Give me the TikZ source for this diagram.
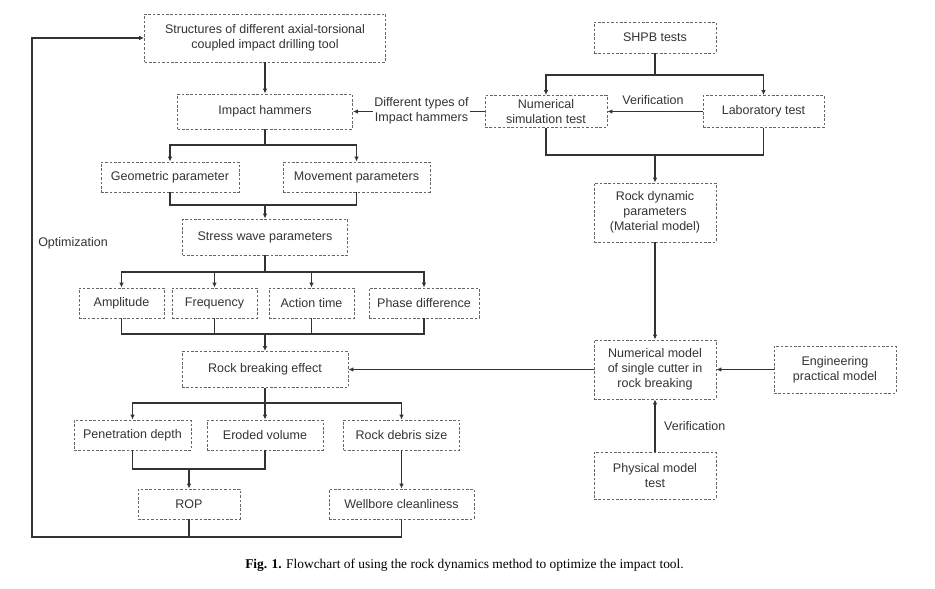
\documentclass[tikz,border=0pt]{standalone}
\usepackage{fontspec}
\setmainfont{Liberation Sans}
\newfontfamily\capfont{Liberation Serif}
\usetikzlibrary{arrows.meta}
\definecolor{ink}{HTML}{333333}
\definecolor{dash}{HTML}{666666}
\tikzset{
  bx/.style={draw=dash, dash pattern=on 2.6pt off 1.8pt, line width=0.8pt, align=center, inner sep=0pt, text=ink, font=\fontsize{12.5}{15}\selectfont},
  ln/.style={draw=ink, line width=1.1pt},
  arr/.style={ln, -{Latex[length=5pt,width=4.5pt]}},
  lbl/.style={text=ink, align=center, inner sep=1pt, font=\fontsize{12.5}{15}\selectfont},
}
\begin{document}
\begin{tikzpicture}[x=1pt,y=-1pt]
\useasboundingbox (0,0) rectangle (935,589);
% left column
\node[bx, minimum width=241pt, minimum height=48pt] (s1) at (265,38) {Structures of different axial-torsional\\coupled impact drilling tool};
\node[bx, minimum width=175pt, minimum height=35pt] (ih) at (265,111.5) {Impact hammers};
\node[bx, minimum width=138pt, minimum height=30pt] (geo) at (170,177) {Geometric parameter};
\node[bx, minimum width=147pt, minimum height=30pt] (mov) at (356.5,177) {Movement parameters};
\node[bx, minimum width=165pt, minimum height=36pt] (sw) at (265,237) {Stress wave parameters};
\node[bx, minimum width=85pt, minimum height=30pt] (amp) at (121.5,303) {Amplitude};
\node[bx, minimum width=85pt, minimum height=30pt] (freq) at (214.5,303) {Frequency};
\node[bx, minimum width=85pt, minimum height=30pt] (act) at (311.5,303) {Action time};
\node[bx, minimum width=110pt, minimum height=30pt] (pha) at (424,303) {Phase difference};
\node[bx, minimum width=166pt, minimum height=36pt] (rb) at (265,369.5) {Rock breaking effect};
\node[bx, minimum width=117pt, minimum height=30pt] (pen) at (132.5,435) {Penetration depth};
\node[bx, minimum width=116pt, minimum height=30pt] (ero) at (265,435) {Eroded volume};
\node[bx, minimum width=116pt, minimum height=30pt] (deb) at (401.5,435) {Rock debris size};
\node[bx, minimum width=102pt, minimum height=30pt] (rop) at (189,504) {ROP};
\node[bx, minimum width=145pt, minimum height=30pt] (well) at (401.5,504) {Wellbore cleanliness};
% right column
\node[bx, minimum width=122pt, minimum height=31pt] (shpb) at (655,37.5) {SHPB tests};
\node[bx, minimum width=122pt, minimum height=32pt] (num) at (546,111.5) {Numerical\\simulation test};
\node[bx, minimum width=121pt, minimum height=32pt] (lab) at (763.5,111.5) {Laboratory test};
\node[bx, minimum width=122pt, minimum height=59pt] (rdp) at (655,212.5) {Rock dynamic\\parameters\\(Material model)};
\node[bx, minimum width=122pt, minimum height=59pt] (nm) at (655,369.5) {Numerical model\\of single cutter in\\rock breaking};
\node[bx, minimum width=122pt, minimum height=47pt] (eng) at (835,369.5) {Engineering\\practical model};
\node[bx, minimum width=122pt, minimum height=47pt] (phy) at (655,475.5) {Physical model\\test};
% junctions
\coordinate (j1) at (265,145);
\coordinate (j2) at (265,205);
\coordinate (j3) at (265,272);
\coordinate (j4) at (265,334);
\coordinate (j5) at (265,403);
\coordinate (j6) at (189,469);
\coordinate (j7) at (655,75);
\coordinate (j8) at (655,155);
\coordinate (fb) at (32,537);
% connectors left
\draw[arr] (s1.south) -- (ih.north);
\draw[ln] (ih.south) -- (j1);
\draw[arr] (j1) -| (geo.north);
\draw[arr] (j1) -| (mov.north);
\draw[ln] (geo.south) |- (j2);
\draw[ln] (mov.south) |- (j2);
\draw[arr] (j2) -- (sw.north);
\draw[ln] (sw.south) -- (j3);
\draw[arr] (j3) -| (amp.north);
\draw[arr] (j3) -| (freq.north);
\draw[arr] (j3) -| (act.north);
\draw[arr] (j3) -| (pha.north);
\draw[ln] (amp.south) |- (j4);
\draw[ln] (freq.south) |- (j4);
\draw[ln] (act.south) |- (j4);
\draw[ln] (pha.south) |- (j4);
\draw[arr] (j4) -- (rb.north);
\draw[ln] (rb.south) -- (j5);
\draw[arr] (j5) -| (pen.north);
\draw[arr] (j5) -- (ero.north);
\draw[arr] (j5) -| (deb.north);
\draw[ln] (pen.south) |- (j6);
\draw[ln] (ero.south) |- (j6);
\draw[arr] (j6) -- (rop.north);
\draw[arr] (deb.south) -- (well.north);
\draw[ln] (rop.south) -- (rop.south |- fb);
\draw[arr] (well.south) |- (fb) |- (s1.west);
\node[lbl] (opt) at (73,243) {Optimization};
% connectors right
\draw[ln] (shpb.south) -- (j7);
\draw[arr] (j7) -| (num.north);
\draw[arr] (j7) -| (lab.north);
\draw[arr] (lab.west) -- (num.east);
\node[lbl] (v1) at (653,100) {Verification};
\draw[ln] (num.south) |- (j8);
\draw[ln] (lab.south) |- (j8);
\draw[arr] (j8) -- (rdp.north);
\draw[arr] (rdp.south) -- (nm.north);
\draw[arr] (eng.west) -- (nm.east);
\draw[arr] (phy.north) -- (nm.south);
\node[lbl, anchor=west] (v2) at (663,426) {Verification};
\draw[arr] (nm.west) -- (rb.east);
\draw[arr] (num.west) -- (ih.east);
\node[lbl, fill=white, inner sep=1pt] (dt) at (421.5,111) {Different types of\\Impact hammers};
% caption
\node[inner sep=0pt, text=black, font=\capfont\fontsize{13.4}{15}\selectfont] (cap) at (464.5,565) {\textbf{Fig. 1.} Flowchart of using the rock dynamics method to optimize the impact tool.};
\end{tikzpicture}
\end{document}
